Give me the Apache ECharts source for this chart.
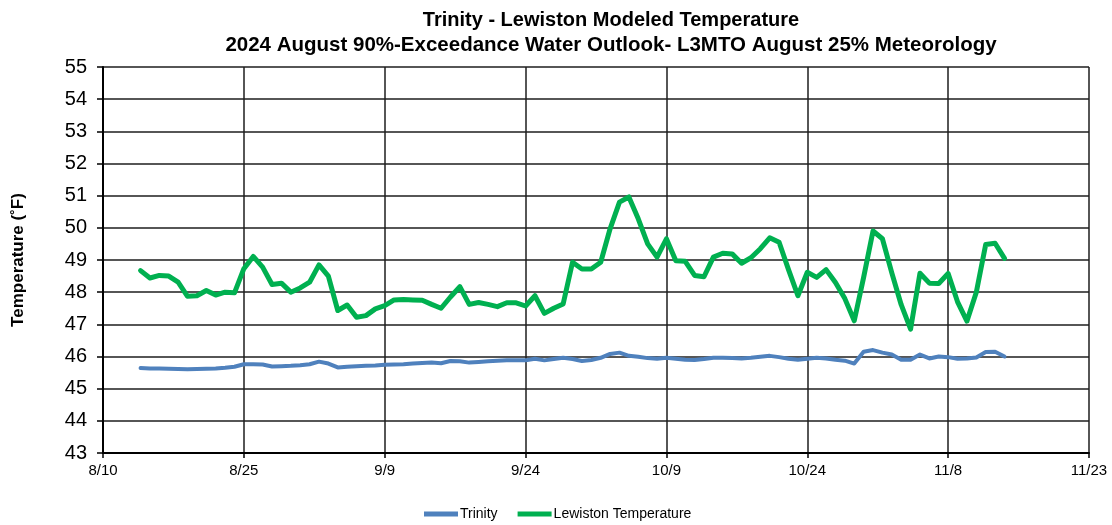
<!DOCTYPE html>
<html>
<head>
<meta charset="utf-8">
<script src="https://cdn.jsdelivr.net/npm/echarts@6/dist/echarts.min.js"></script>
<style>
  html, body { margin: 0; padding: 0; background: #fff; }
  #chart { width: 1112px; height: 525px; }
</style>
</head>
<body>
<div id="chart"></div>
<script>
// ---- data ----
const startDate = '2024-08-10';   // x-axis origin (first tick)
const endDate = '2024-11-23';     // x-axis end (last tick)
const firstDay = '2024-08-14';    // first modeled day (daily values follow)

const trinity = [
  45.64, 45.63, 45.63, 45.62, 45.61, 45.60, 45.61, 45.62, 45.63, 45.65, 45.68,
  45.76, 45.76, 45.75, 45.69, 45.70, 45.71, 45.73,
  45.76, 45.84, 45.78, 45.66, 45.68, 45.70, 45.71, 45.72, 45.74, 45.75, 45.76, 45.78,
  45.80, 45.81, 45.79, 45.86, 45.85, 45.81, 45.83, 45.85, 45.87, 45.88, 45.88, 45.88,
  45.93, 45.88, 45.92, 45.96, 45.92, 45.86,
  45.89, 45.96, 46.08, 46.12, 46.02, 45.99, 45.95, 45.93, 45.96, 45.93, 45.90, 45.89,
  45.92, 45.96, 45.96, 45.95, 45.94, 45.96, 45.99, 46.02, 45.98, 45.93, 45.90, 45.93,
  45.96, 45.94, 45.90, 45.87, 45.78, 46.15, 46.20,
  46.12, 46.06, 45.90, 45.90, 46.06, 45.94, 46.00, 45.98, 45.93, 45.94, 45.97, 46.14,
  46.15, 46.00
];

const lewiston = [
  48.67, 48.44, 48.52, 48.50, 48.31, 47.87, 47.89, 48.05, 47.91, 48.00, 47.98,
  48.73, 49.11, 48.78, 48.24, 48.28, 48.00, 48.13,
  48.31, 48.85, 48.50, 47.43, 47.60, 47.22, 47.27, 47.48, 47.58, 47.76, 47.77, 47.76,
  47.75, 47.62, 47.50, 47.85, 48.17, 47.62, 47.68, 47.62, 47.55, 47.67, 47.67, 47.57,
  47.89, 47.34, 47.50, 47.63, 48.93, 48.72,
  48.72, 48.93, 49.97, 50.80, 50.96, 50.28, 49.50, 49.09, 49.66, 48.98, 48.96, 48.52,
  48.48, 49.09, 49.21, 49.19, 48.90, 49.07, 49.35, 49.69, 49.55, 48.70, 47.89, 48.62,
  48.46, 48.70, 48.30, 47.80, 47.11, 48.46, 49.90,
  49.66, 48.60, 47.61, 46.85, 48.59, 48.28, 48.27, 48.58, 47.70, 47.10, 48.00, 49.48,
  49.52, 49.05
];

const seriesNames = ['Trinity', 'Lewiston Temperature'];
const titleLines = [
  'Trinity - Lewiston Modeled Temperature',
  '2024 August 90%-Exceedance Water Outlook- L3MTO August 25% Meteorology'
];
const yAxisName = 'Temperature (\u02DAF)';

// ---- helpers ----
const DAY = 86400000;
const t0 = Date.parse(startDate + 'T00:00:00Z');
const tEnd = Date.parse(endDate + 'T00:00:00Z');
const tFirst = Date.parse(firstDay + 'T00:00:00Z');
const offset0 = Math.round((tFirst - t0) / DAY);
const xMax = Math.round((tEnd - t0) / DAY);

function toPairs(vals) {
  return vals.map((v, i) => [offset0 + i, v]);
}
function dayLabel(v) {
  const d = new Date(t0 + v * DAY);
  return (d.getUTCMonth() + 1) + '/' + d.getUTCDate();
}

const FONT = 'Liberation Sans, Arial, sans-serif';
const gridLine = { show: true, lineStyle: { color: '#1e1e1e', width: 1.5 } };

const chart = echarts.init(document.getElementById('chart'), null, { renderer: 'canvas' });
chart.setOption({
  animation: false,
  backgroundColor: '#ffffff',
  title: [
    { text: titleLines[0], left: 606, top: 5, textAlign: 'center',
      textStyle: { fontFamily: FONT, fontWeight: 'bold', fontSize: 20, color: '#000' } },
    { text: titleLines[1], left: 606, top: 30, textAlign: 'center',
      textStyle: { fontFamily: FONT, fontWeight: 'bold', fontSize: 20.5, color: '#000' } }
  ],
  legend: {
    data: seriesNames,
    left: 419,
    top: 502,
    itemWidth: 34,
    itemHeight: 5,
    itemGap: 20,
    icon: 'rect',
    textStyle: { fontFamily: FONT, fontSize: 14, color: '#000', padding: [0, 0, 0, -3] }
  },
  grid: { left: 103, right: 23, top: 67, bottom: 72, containLabel: false },
  xAxis: {
    type: 'value',
    min: 0,
    max: xMax,
    interval: 15,
    axisLine: { show: true, lineStyle: { color: '#000', width: 2 } },
    axisTick: { show: true, inside: false, length: 5, lineStyle: { color: '#000', width: 1.5 } },
    axisLabel: { formatter: dayLabel, fontFamily: FONT, fontSize: 15, color: '#000', margin: 10 },
    splitLine: gridLine
  },
  yAxis: {
    type: 'value',
    min: 43,
    max: 55,
    interval: 1,
    name: yAxisName,
    nameLocation: 'middle',
    nameRotate: 90,
    nameGap: 76,
    nameTextStyle: { fontFamily: FONT, fontWeight: 'bold', fontSize: 17, color: '#000' },
    axisLine: { show: true, lineStyle: { color: '#000', width: 2 } },
    axisTick: { show: true, inside: false, length: 6, lineStyle: { color: '#000', width: 1.5 } },
    axisLabel: { fontFamily: FONT, fontSize: 20, color: '#000', margin: 16 },
    splitLine: gridLine
  },
  series: [
    {
      name: seriesNames[0],
      type: 'line',
      data: toPairs(trinity),
      showSymbol: false,
      symbol: 'none',
      lineStyle: { color: '#4F81BD', width: 4, join: 'round', cap: 'round' },
      itemStyle: { color: '#4F81BD' },
      z: 3
    },
    {
      name: seriesNames[1],
      type: 'line',
      data: toPairs(lewiston),
      showSymbol: false,
      symbol: 'none',
      lineStyle: { color: '#00B050', width: 5, join: 'round', cap: 'round' },
      itemStyle: { color: '#00B050' },
      z: 4
    }
  ]
});
</script>
</body>
</html>
